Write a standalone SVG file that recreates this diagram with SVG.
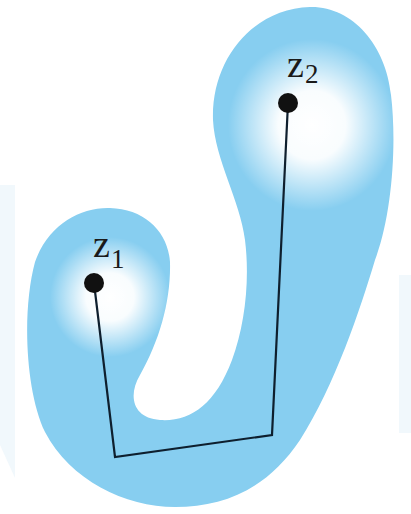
<svg xmlns="http://www.w3.org/2000/svg" width="411" height="514" viewBox="0 0 411 514">
  <style>
    .lbl { font-family: "Liberation Serif", "DejaVu Serif", serif; fill: #1a1a1a; }
    .main { font-size: 38px; }
    .sub { font-size: 27px; }
    .dot { fill: #111111; }
    .path { fill: none; stroke: #0e1f2e; stroke-width: 2.2; stroke-linejoin: miter; }
  </style>
  <defs>
    <radialGradient id="glow" cx="0.5" cy="0.5" r="0.5">
      <stop offset="0" stop-color="#ffffff" stop-opacity="1"/>
      <stop offset="0.4" stop-color="#ffffff" stop-opacity="0.95"/>
      <stop offset="1" stop-color="#ffffff" stop-opacity="0"/>
    </radialGradient>
    <path id="blobShape" d="M 310 7
      C 352 6, 386 45, 391 95
      C 397 145, 392 215, 375 260
      C 360 310, 335 385, 300 440
      C 268 488, 225 507, 175 507
      C 125 507, 70 480, 45 432
      C 25 390, 22 310, 35 262
      C 48 225, 80 207, 110 208
      C 145 209, 168 232, 170 262
      C 171 300, 160 340, 140 375
      C 128 395, 132 418, 160 420
      C 190 422, 215 405, 232 360
      C 245 325, 250 280, 245 240
      C 240 200, 215 160, 213 120
      C 211 60, 252 9, 310 7 Z"/>
    <clipPath id="blobClip"><use href="#blobShape"/></clipPath>
  </defs>
  <rect width="411" height="514" fill="#ffffff"/>
  <path d="M 0 185 L 15 185 L 15 478 L 0 445 Z" fill="#f1f8fc"/>
  <rect x="399" y="275" width="12" height="158" fill="#f1f8fc"/>

  <g id="region">
    <use href="#blobShape" fill="#87cef0"/>
    <g clip-path="url(#blobClip)">
      <ellipse cx="110" cy="297" rx="60" ry="60" fill="url(#glow)"/>
      <ellipse cx="312" cy="125" rx="84" ry="86" fill="url(#glow)"/>
    </g>
  </g>

  <g id="connectors">
    <polyline class="path" points="94,283 115,457 272,435 288,103"/>
  </g>

  <g id="z1">
    <circle class="dot" cx="94" cy="283" r="10"/>
    <text class="lbl main" x="93" y="257">z</text>
    <text class="lbl sub" x="111" y="268">1</text>
  </g>

  <g id="z2">
    <circle class="dot" cx="288" cy="103" r="10"/>
    <text class="lbl main" x="287" y="77">z</text>
    <text class="lbl sub" x="305" y="83">2</text>
  </g>
</svg>
